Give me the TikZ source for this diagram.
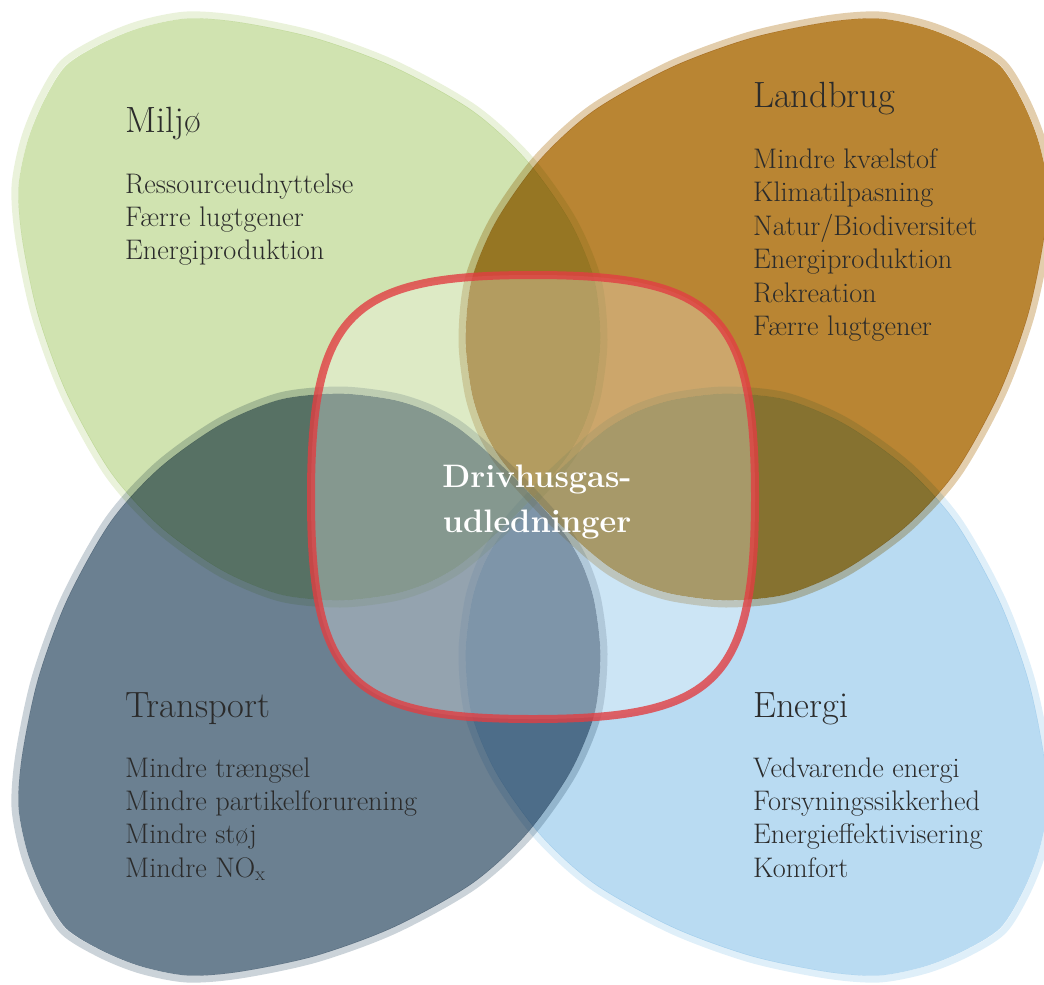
\documentclass[tikz,border=0pt]{standalone}
\usepackage{fontspec}
\definecolor{miljo}{RGB}{208,227,176}
\definecolor{landbrug}{RGB}{185,133,51}
\definecolor{transport}{RGB}{107,128,145}
\definecolor{energi}{RGB}{185,219,242}
\definecolor{redline}{RGB}{225,62,66}
\definecolor{txt}{RGB}{43,43,43}
\newcommand\drawpetal[2]{%
 \begin{scope}[blend mode=multiply]
 \begin{scope}[shift={(300,300)},scale=.988,shift={(-300,-300)}]
 \fill[#1] \petal;
 \end{scope}
 \draw[petal,draw=#1!#2!white] \petal;
 \end{scope}}
\begin{document}
\begin{tikzpicture}[x=1pt,y=-1pt,
head/.style={anchor=base west,inner sep=0,text=txt,font=\fontsize{36.5}{44}\selectfont},
item/.style={anchor=base west,inner sep=0,text=txt,font=\fontsize{28.3}{34}\selectfont},
core/.style={anchor=base,inner sep=0,text=white,font=\fontsize{32.5}{40}\selectfont\bfseries},
petal/.style={line width=7}]
\useasboundingbox (0,0) rectangle (1044,985);
\clip (0,0) rectangle (1044,985);
\def\petal{plot[smooth cycle] coordinates {(518,518) (536,499) (555,478) (572,456)
 (587,428) (598,393) (604,340) (598,280) (573,220) (529,158) (474,108) (395,64)
 (316,35) (240,19) (187,15) (140,24) (100,40) (63,63) (40,100) (24,140) (15,187)
 (19,240) (35,316) (64,395) (108,474) (158,529) (220,573) (280,598) (340,604)
 (393,598) (428,587) (456,572) (478,555) (499,536)}};

% petals
\drawpetal{miljo}{45}
\begin{scope}[shift={(1066,0)},xscale=-1]
\drawpetal{landbrug}{40}
\end{scope}
\begin{scope}[shift={(0,994)},yscale=-1]
\drawpetal{transport}{35}
\end{scope}
\begin{scope}[shift={(1066,994)},xscale=-1,yscale=-1]
\drawpetal{energi}{45}
\end{scope}

% centre square
\draw[line width=8,draw=redline,draw opacity=.8,fill=white,fill opacity=.28]
 (755,497) .. controls (755,680.6) and (716.6,719) .. (533,719)
 .. controls (349.4,719) and (311,680.6) .. (311,497)
 .. controls (311,313.4) and (349.4,275) .. (533,275)
 .. controls (716.6,275) and (755,313.4) .. (755,497) -- cycle;

\node[core] (c1) at (537,487) {Drivhusgas-};
\node[core] (c2) at (537,532) {udledninger};

\node[head] (miljo) at (125,132) {Miljø};
\node[item] (m1) at (125,193) {Ressourceudnyttelse};
\node[item] (m2) at (125,226) {Færre lugtgener};
\node[item] (m3) at (125,259) {Energiproduktion};

\node[head] (landbrug) at (753,107) {Landbrug};
\node[item] (l1) at (753,168) {Mindre kvælstof};
\node[item] (l2) at (753,201.5) {Klimatilpasning};
\node[item] (l3) at (753,235) {Natur/Biodiversitet};
\node[item] (l4) at (753,268.5) {Energiproduktion};
\node[item] (l5) at (753,302) {Rekreation};
\node[item] (l6) at (753,335.5) {Færre lugtgener};

\node[head] (transport) at (125,717) {Transport};
\node[item] (t1) at (125,777) {Mindre trængsel};
\node[item] (t2) at (125,810.3) {Mindre partikelforurening};
\node[item] (t3) at (125,843.6) {Mindre støj};
\node[item] (t4) at (125,877) {Mindre NO\textsubscript{x}};

\node[head] (energi) at (753,717) {Energi};
\node[item] (e1) at (753,777) {Vedvarende energi};
\node[item] (e2) at (753,810.3) {Forsyningssikkerhed};
\node[item] (e3) at (753,843.6) {Energieffektivisering};
\node[item] (e4) at (753,877) {Komfort};

\end{tikzpicture}
\end{document}
